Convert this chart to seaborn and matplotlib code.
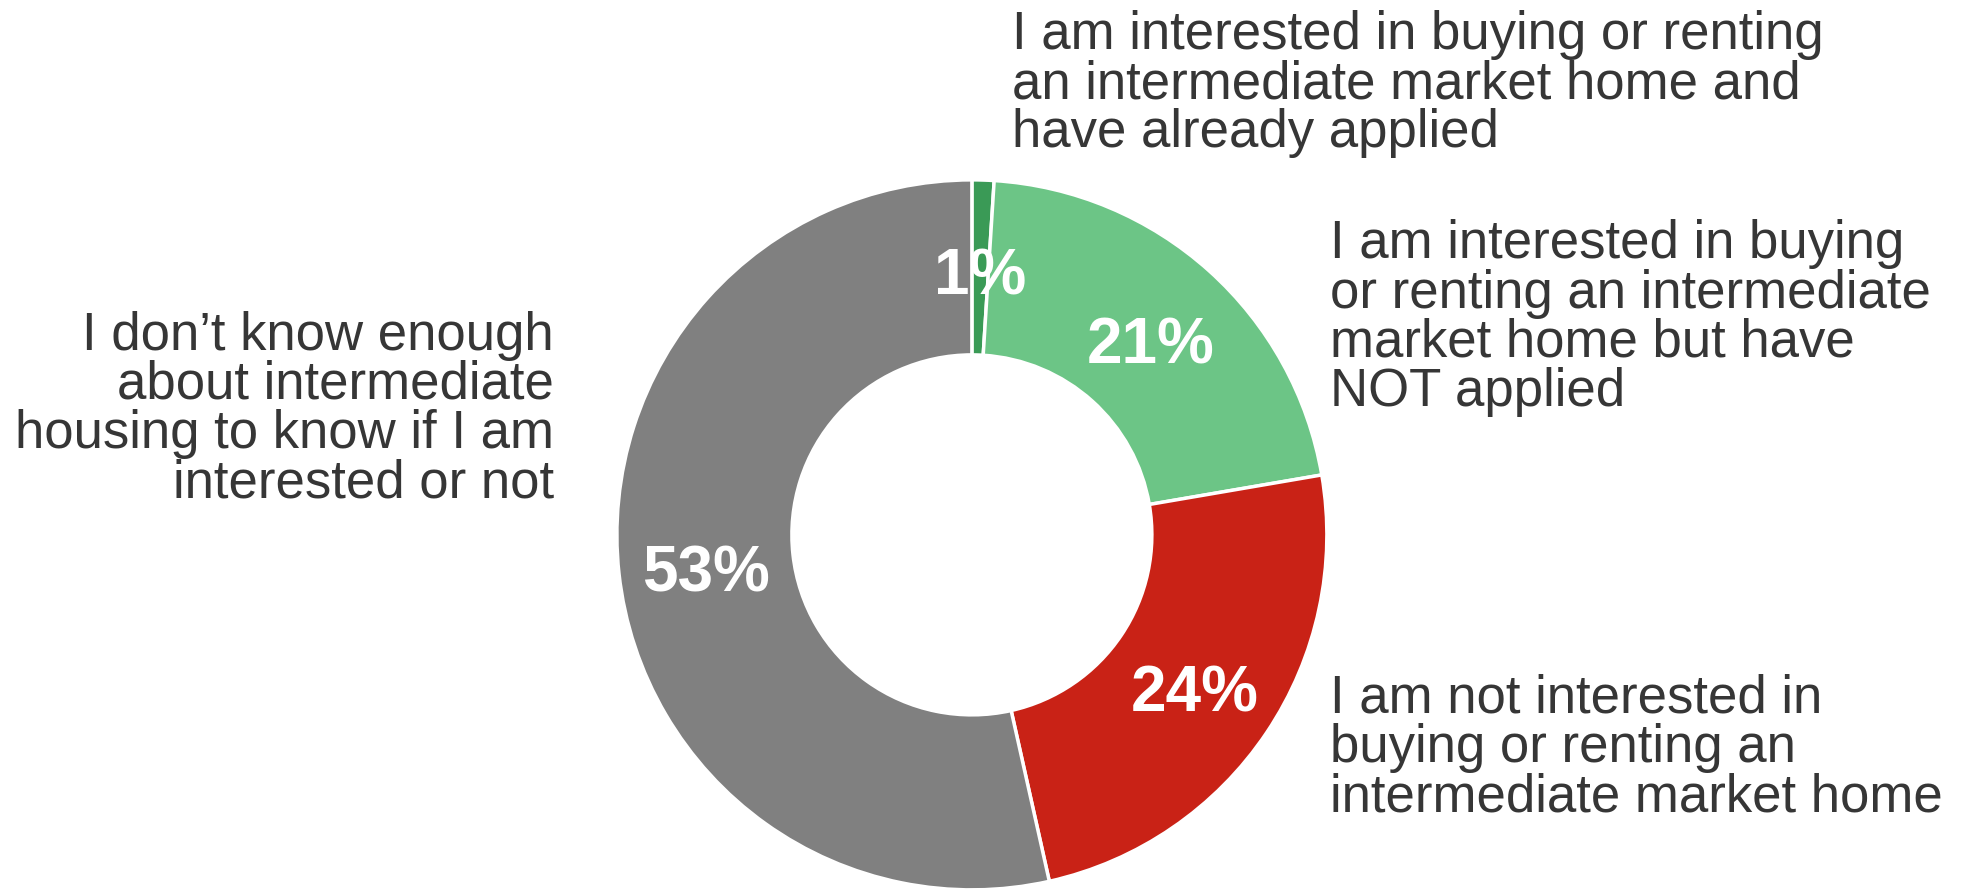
import matplotlib
matplotlib.use("Agg")
import matplotlib.pyplot as plt
import seaborn as sns
import numpy as np

# data
categories = [
    "I am interested in buying or renting\nan intermediate market home and\nhave already applied",
    "I am interested in buying\nor renting an intermediate\nmarket home but have\nNOT applied",
    "I am not interested in\nbuying or renting an\nintermediate market home",
    "I don\u2019t know enough\nabout intermediate\nhousing to know if I am\ninterested or not",
]
shares = [1.0, 21.3, 24.2, 53.5]
pct_labels = ["1%", "21%", "24%", "53%"]
colors = ["#3a9a56", "#6cc586", "#c92216", "#808080"]

# where each category label sits (pie radius = 1)
label_pos = [(0.113, 1.27, "left"), (1.01, 0.61, "left"), (1.01, -0.60, "left"), (-1.177, 0.353, "right")]

sns.set_theme(style="white")
plt.rcParams["font.family"] = ["Liberation Sans", "DejaVu Sans"]

fig = plt.figure(figsize=(19.64, 8.89), dpi=100)
ax = fig.add_axes([0.3141, -0.001, 0.3615, 0.7987])

wedges, texts = ax.pie(
    shares,
    colors=colors,
    startangle=90,
    counterclock=False,
    radius=1.0,
    wedgeprops=dict(width=0.493, edgecolor="white", linewidth=2.5),
)

# percentage labels at the middle of each ring segment
for w, lab in zip(wedges, pct_labels):
    ang = np.deg2rad((w.theta1 + w.theta2) / 2)
    r = 0.755
    ax.text(r * np.cos(ang), r * np.sin(ang) - 0.03, lab, ha="center", va="center",
            fontsize=46, fontweight="bold", color="white")

for cat, (x, y, ha) in zip(categories, label_pos):
    ax.text(x, y, cat, ha=ha, va="center", multialignment=ha, fontsize=38,
            color="#363636", linespacing=0.98, clip_on=False)

ax.set_xlim(-1, 1)
ax.set_ylim(-1, 1)
ax.set_aspect("equal")
ax.axis("off")

fig.savefig("out.png", dpi=100, facecolor="white")
